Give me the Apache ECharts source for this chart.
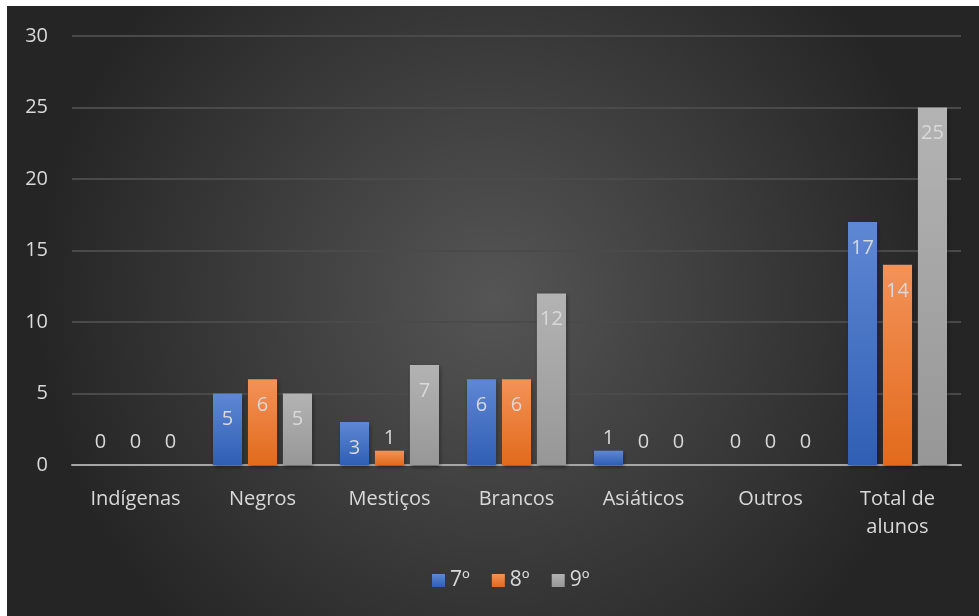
<!DOCTYPE html>
<html><head><meta charset="utf-8">
<script src="https://cdn.jsdelivr.net/npm/echarts@6/dist/echarts.min.js"></script>
<style>
html,body{margin:0;padding:0;background:#fff;width:979px;height:616px;overflow:hidden}
#c{position:absolute;left:7px;top:6px;width:972px;height:610px}
</style></head><body>
<div id="c"></div>
<script>
const categories = ['Indígenas','Negros','Mestiços','Brancos','Asiáticos','Outros','Total de\nalunos'];
const seriesNames = ['7º','8º','9º'];
const v7 = [0,5,3,6,1,0,17];
const v8 = [0,6,1,6,0,0,14];
const v9 = [0,5,7,12,0,0,25];
const yTicks = {min:0,max:30,interval:5};

const font = '"Open Sans", sans-serif';
const txt = '#d9d9d9';
const grads = [
  ['#5f88d4','#2f5eb4'],
  ['#f39258','#e26a1c'],
  ['#b3b3b3','#979797']
];
function mk(vals, idx){
  return {
    name: seriesNames[idx], type:'bar', barGap:'20%', barCategoryGap:'22%',
    itemStyle:{
      color:{type:'linear',x:0,y:0,x2:0,y2:1,colorStops:[{offset:0,color:grads[idx][0]},{offset:1,color:grads[idx][1]}]},
      shadowBlur:4, shadowColor:'rgba(0,0,0,0.45)', shadowOffsetX:1, shadowOffsetY:2
    },
    data: vals.map(v => {
      let label;
      if (v === 0) label = {position:'top', distance:13};
      else if (v <= 1) label = {position:'top', distance:2};
      else label = {position:'insideTop', distance:16};
      return {value:v, label};
    }),
    label:{show:true, color:txt, fontSize:20, fontFamily:font}
  };
}
const chart = echarts.init(document.getElementById('c'));
chart.setOption({
  backgroundColor:{type:'radial',x:0.5,y:0.48,r:0.75,colorStops:[{offset:0,color:'#555555'},{offset:1,color:'#252525'}]},
  animation:false,
  grid:{left:65,right:18,top:30,bottom:151},
  legend:{bottom:20,left:420,itemWidth:13,itemHeight:13,itemGap:22,
    icon:'rect',textStyle:{color:txt,fontSize:21,fontFamily:font},
    data:seriesNames},
  xAxis:{type:'category',data:categories,
    axisLine:{lineStyle:{color:'#a6a6a6',width:2}},
    axisTick:{show:false},
    axisLabel:{color:txt,fontSize:20,fontFamily:font,margin:20,lineHeight:28,interval:0}},
  yAxis:{type:'value',min:yTicks.min,max:yTicks.max,interval:yTicks.interval,
    axisLine:{show:false},axisTick:{show:false},
    splitLine:{lineStyle:{color:'#4a4a4a',width:2}},
    axisLabel:{color:txt,fontSize:20,fontFamily:font,margin:24}},
  series:[mk(v7,0),mk(v8,1),mk(v9,2)]
});
</script></body></html>
